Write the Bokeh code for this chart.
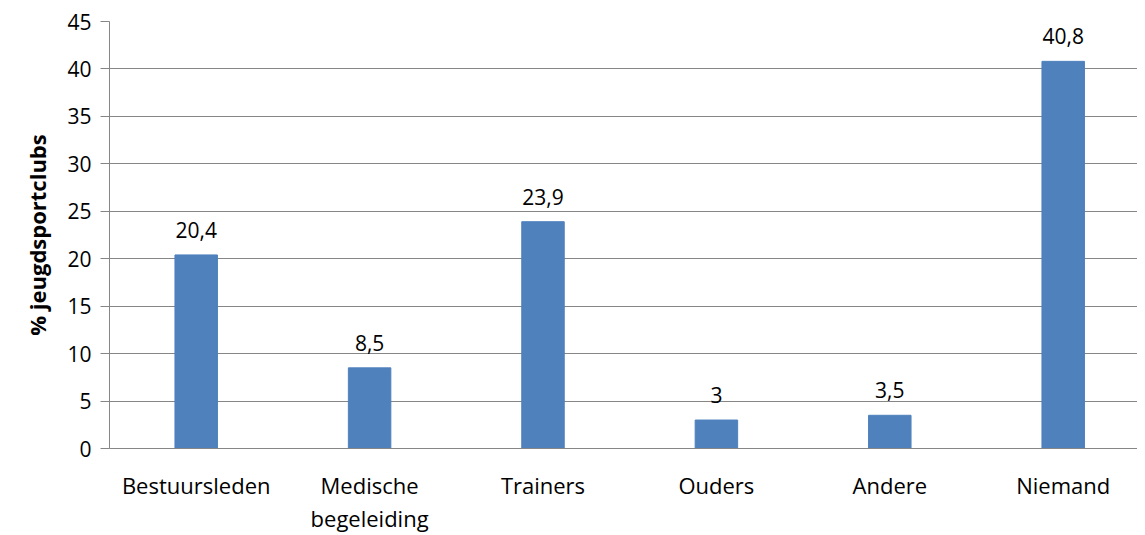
from bokeh.plotting import figure
from bokeh.models import ColumnDataSource, FixedTicker, Range1d
from bokeh.core.properties import value
from bokeh.embed import file_html
from bokeh.resources import INLINE

categories = ["Bestuursleden", "Medische\nbegeleiding", "Trainers", "Ouders", "Andere", "Niemand"]
values = [20.4, 8.5, 23.9, 3.0, 3.5, 40.8]
value_labels = ["20,4", "8,5", "23,9", "3", "3,5", "40,8"]
y_ticks = [0, 5, 10, 15, 20, 25, 30, 35, 40, 45]

FONT = "Open Sans"
BLUE = "#4F81BD"
GRID = "#868686"

W = 1137
LEFT = 109
xs = [i + 0.5 for i in range(len(categories))]
src = ColumnDataSource(dict(x=xs, top=values, lab=value_labels))

p = figure(width=W, height=535, output_backend="svg", toolbar_location=None,
           x_range=Range1d(0, (W - LEFT) / 173.4), y_range=Range1d(0, 45),
           min_border_left=LEFT, min_border_right=0, min_border_top=21, min_border_bottom=60)
p.outline_line_color = None
p.background_fill_color = "white"

p.vbar(x="x", top="top", bottom=0, width=0.245, source=src, fill_color=BLUE, line_color=BLUE)
p.text(x="x", y="top", text="lab", source=src, y_offset=-17, text_align="center",
       text_baseline="bottom", text_font=value(FONT), text_font_size="21px", text_color="black")

p.xgrid.grid_line_color = None
p.ygrid.grid_line_color = GRID
p.ygrid.grid_line_width = 1
p.ygrid.ticker = FixedTicker(ticks=y_ticks)

p.yaxis.ticker = FixedTicker(ticks=y_ticks)
p.yaxis.axis_line_color = GRID
p.yaxis.major_tick_line_color = GRID
p.yaxis.major_tick_in = 0
p.yaxis.major_tick_out = 9
p.yaxis.minor_tick_line_color = None
p.yaxis.major_label_text_font = FONT
p.yaxis.major_label_text_font_size = "21px"
p.yaxis.major_label_text_color = "black"
p.yaxis.major_label_standoff = 9
p.yaxis.axis_label = "% jeugdsportclubs"
p.yaxis.axis_label_text_font = FONT
p.yaxis.axis_label_text_font_size = "22px"
p.yaxis.axis_label_text_font_style = "bold"
p.yaxis.axis_label_text_color = "black"
p.yaxis.axis_label_standoff = 12

p.xaxis.ticker = FixedTicker(ticks=xs)
p.xaxis.major_label_overrides = {x: c for x, c in zip(xs, categories)}
p.xaxis.axis_line_color = GRID
p.xaxis.major_tick_line_color = None
p.xaxis.minor_tick_line_color = None
p.xaxis.major_label_text_font = FONT
p.xaxis.major_label_text_font_size = "22px"
p.xaxis.major_label_text_line_height = 1.1
p.xaxis.major_label_text_color = "black"
p.xaxis.major_label_standoff = 15

open("out.html", "w").write(file_html(p, INLINE))
